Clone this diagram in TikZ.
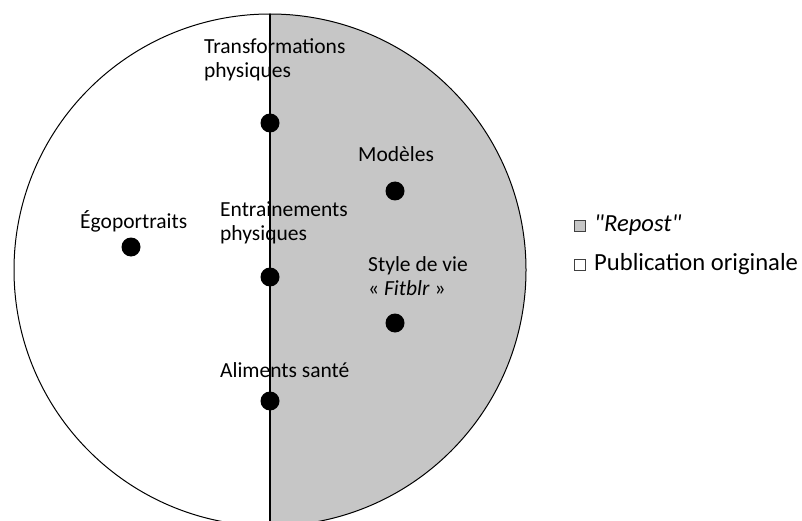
\documentclass[tikz,border=0pt]{standalone}
\usepackage{fontspec}
\setmainfont{Carlito}[Ligatures=TeXOff]
\begin{document}
\begin{tikzpicture}[x=1pt,y=-1pt,
  dot/.style={circle,fill=black,inner sep=0pt,minimum size=19pt},
  lbl/.style={anchor=north west,inner sep=0pt,align=left,
    font=\fontsize{21.5}{24}\selectfont},
  leglbl/.style={anchor=base west,inner sep=0pt,font=\fontsize{24.6}{28}\selectfont},
  legbox/.style={draw=black!75,line width=0.8pt,minimum size=11pt,inner sep=0pt}]
\useasboundingbox (0,0) rectangle (802,521);
\coordinate (c) at (270,270);
\begin{scope}
\clip (270,0) rectangle (802,521);
\fill[gray!45] (c) circle[radius=256];
\end{scope}
\draw[line width=1pt] (c) circle[radius=256];
\coordinate (top) at (270,14);
\coordinate (bot) at (270,521);
\draw[line width=1.2pt] (top) -- (bot);
% points
\node[dot] (transf) at (270,123) {};
\node[dot] (modeles) at (395,191) {};
\node[dot] (ego) at (131,247) {};
\node[dot] (entr) at (270,277) {};
\node[dot] (style) at (395,323) {};
\node[dot] (alim) at (270,401) {};
% labels
\node[lbl] (transfl) at (204,38) {Transformations\\physiques};
\node[lbl] (modelesl) at (358,146) {Modèles};
\node[lbl] (egol) at (80,210) {Égoportraits};
\node[lbl] (entrl) at (220,202) {Entrainements\\physiques};
\node[lbl] (stylel) at (368,256) {Style de vie\\« \textit{Fitblr} »};
\node[lbl] (aliml) at (220,362) {Aliments santé};
% legend
\node[legbox,fill=gray!45] (rep) at (580,226) {};
\node[leglbl] (repl) at (594,232) {\textit{"Repost"}};
\node[legbox,fill=white] (pub) at (580,265) {};
\node[leglbl] (publ) at (594,270) {Publication originale};
\end{tikzpicture}
\end{document}
